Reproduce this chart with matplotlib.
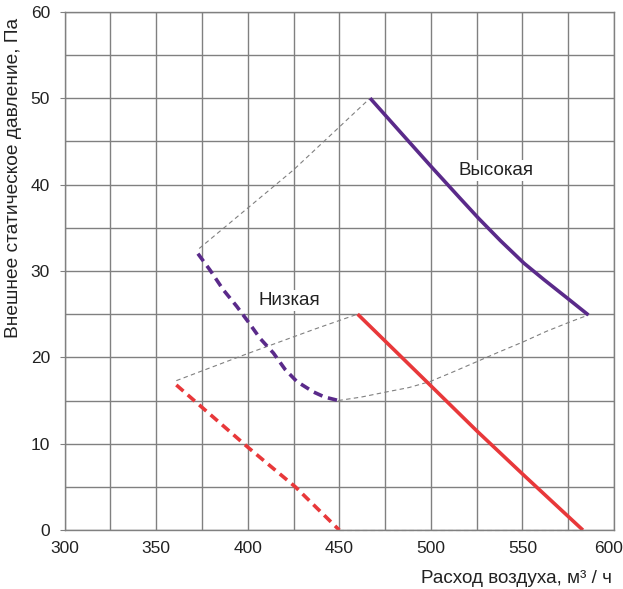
import matplotlib
matplotlib.use("Agg")
import matplotlib.pyplot as plt
from matplotlib import font_manager as fm
from matplotlib.transforms import ScaledTranslation
import numpy as np

names = {f.name for f in fm.fontManager.ttflist}
main_font = "Liberation Sans" if "Liberation Sans" in names else "DejaVu Sans"

# Data
high_solid_x = [466.8, 483.2, 500.5, 516.0, 526.0, 538.0, 550.8, 561.7, 574.2, 586.0]
high_solid_y = [50.0, 46.1, 42.0, 38.4, 36.1, 33.5, 30.9, 29.0, 26.9, 24.9]
high_dash_x = [372.8, 379.4, 386.7, 394.0, 400.3, 406.7, 414.0, 420.4, 426.8, 435.8, 442.0, 449.5]
high_dash_y = [32.0, 30.1, 27.8, 25.9, 24.1, 22.2, 20.5, 18.6, 17.2, 16.0, 15.4, 15.0]
low_solid_x = [460, 500, 525, 550, 583]
low_solid_y = [25, 16.7, 11.5, 6.5, 0]
low_dash_x = [361, 400, 426, 450]
low_dash_y = [16.8, 9.6, 5.0, 0]
env_top_x = [373.5, 425, 466.8]
env_top_y = [32.6, 41.7, 50]
env_mid_x = [361, 399.5, 437, 460]
env_mid_y = [17.3, 20.4, 23.3, 25]
env_low_x = [449.5, 462, 475.9, 488, 499.6, 512, 525.1, 537, 550.5, 563, 576, 586]
env_low_y = [15.0, 15.4, 16.0, 16.5, 17.2, 18.3, 19.5, 20.6, 21.8, 23.0, 24.1, 24.9]
env_base_x = [450, 583]
env_base_y = [0, 0]

x_ticks = [300, 350, 400, 450, 500, 550, 600]
y_ticks = [0, 10, 20, 30, 40, 50, 60]

purple = "#5a2a8a"
red = "#e8383a"
grid_c = "#808080"
txt_c = "#222222"

W, H = 623, 589
fig = plt.figure(figsize=(W / 100, H / 100), dpi=100)
ax = fig.add_axes([0.1037, 0.1, 0.8819, 0.880])
ax.set_xlim(300, 600)
ax.set_ylim(0, 60)

ax.set_xticks(np.arange(300, 601, 25), minor=True)
ax.set_yticks(np.arange(0, 61, 5), minor=True)
ax.set_xticks(x_ticks)
ax.set_yticks(y_ticks)
ax.grid(True, which="both", color=grid_c, lw=1.0)
ax.set_axisbelow(True)
for s in ax.spines.values():
    s.set_color(grid_c)
    s.set_linewidth(1.0)
ax.tick_params(which="minor", length=0)
ax.tick_params(axis="x", which="major", length=0, pad=8)
ax.tick_params(axis="y", which="major", length=3.5, color=grid_c, pad=7)
for lab in ax.get_xticklabels() + ax.get_yticklabels():
    lab.set_family(main_font)
    lab.set_fontsize(12.5)
    lab.set_color(txt_c)
# keep the last x tick label inside the figure
last = ax.get_xticklabels()[-1]
last.set_transform(last.get_transform() + ScaledTranslation(-5 / 100, 0, fig.dpi_scale_trans))

gd = dict(color="#808080", lw=0.8, ls=(0, (4, 3)))
ax.plot(env_top_x, env_top_y, **gd)
ax.plot(env_mid_x, env_mid_y, **gd)
ax.plot(env_low_x, env_low_y, **gd)
ax.plot(env_base_x, env_base_y, **gd, clip_on=False)

ax.plot(high_solid_x, high_solid_y, color=purple, lw=2.6, solid_capstyle="butt",
        solid_joinstyle="round")
ax.plot(high_dash_x, high_dash_y, color=purple, lw=2.6, ls=(0, (2.6, 1.6)))
ax.plot(low_solid_x, low_solid_y, color=red, lw=2.6, solid_capstyle="butt")
ax.plot(low_dash_x, low_dash_y, color=red, lw=2.6, ls=(0, (2.6, 1.6)))

bbox = dict(facecolor="white", edgecolor="none", pad=1.5)
ax.text(515.0, 41.1, "Высокая", family=main_font, fontsize=13.5, color=txt_c,
        va="baseline", ha="left", bbox=bbox)
ax.text(405.8, 26.05, "Низкая", family=main_font, fontsize=13.5, color=txt_c,
        va="baseline", ha="left", bbox=bbox)

fig.text(14 / W, 1 - 177.5 / H, "Внешнее статическое давление, Па", family=main_font,
         fontsize=13.8, color=txt_c, rotation=90, ha="center", va="center")
fig.text(612 / W, 1 - 583 / H, "Расход воздуха, м³ / ч", family=main_font, fontsize=13.6,
         color=txt_c, ha="right", va="baseline")

fig.savefig("out.png", dpi=100)
